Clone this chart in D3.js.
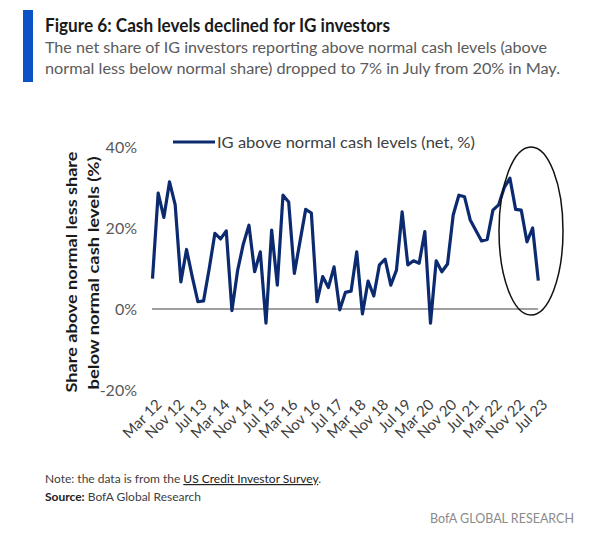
<!DOCTYPE html>
<html>
<head>
<meta charset="utf-8">
<script src="https://cdn.jsdelivr.net/npm/d3@7"></script>
<style>
  html, body { margin: 0; padding: 0; background: #fff; }
  svg { display: block; }
  text { font-family: Lato, "Open Sans", sans-serif; }
</style>
</head>
<body>
<svg id="chart" width="596" height="541"></svg>
<script>
const categories = [
  "Mar 12","May 12","Jul 12","Sep 12","Nov 12",
  "Jan 13","Mar 13","May 13","Jul 13","Sep 13","Nov 13",
  "Jan 14","Mar 14","May 14","Jul 14","Sep 14","Nov 14",
  "Jan 15","Mar 15","May 15","Jul 15","Sep 15","Nov 15",
  "Jan 16","Mar 16","May 16","Jul 16","Sep 16","Nov 16",
  "Jan 17","Mar 17","May 17","Jul 17","Sep 17","Nov 17",
  "Jan 18","Mar 18","May 18","Jul 18","Sep 18","Nov 18",
  "Jan 19","Mar 19","May 19","Jul 19","Sep 19","Nov 19",
  "Jan 20","Mar 20","May 20","Jul 20","Sep 20","Nov 20",
  "Jan 21","Mar 21","May 21","Jul 21","Sep 21","Nov 21",
  "Jan 22","Mar 22","May 22","Jul 22","Sep 22","Nov 22",
  "Jan 23","Mar 23","May 23","Jul 23"
];
const igCash = [
  7.5, 28.6, 22.6, 31.4, 25.7,
  6.7, 14.7, 8, 1.8, 2.0, 10,
  18.7, 17.3, 19.3, -0.4, 9.5, 16,
  20.7, 9.2, 14.1, -3.5, 19.5, 5.9,
  28.1, 26.4, 8.8, 16.7, 24.6, 23.7,
  1.8, 8, 5.3, 10.4, -0.2, 4.1,
  4.4, 14.1, -1.2, 6.9, 3.2, 10.9,
  12.3, 5.9, 9.6, 24, 10.9, 11.9,
  11.3, 19.1, -3.5, 11.9, 9.2, 11.1,
  23.2, 28.1, 27.7, 22, 19.4, 16.8,
  17.2, 24.4, 25.7, 30, 32.3, 24.6,
  24.4, 16.6, 20, 7
];
const xTickLabels = ["Mar 12","Nov 12","Jul 13","Mar 14","Nov 14","Jul 15","Mar 16","Nov 16","Jul 17",
  "Mar 18","Nov 18","Jul 19","Mar 20","Nov 20","Jul 21","Mar 22","Nov 22","Jul 23"];
const yTicks = [-20, 0, 20, 40];
const seriesName = "IG above normal cash levels (net, %)";
const titleText = "Figure 6: Cash levels declined for IG investors";
const subtitleLines = [
  "The net share of IG investors reporting above normal cash levels (above",
  "normal less below normal share) dropped to 7% in July from 20% in May."
];
const yTitleLines = ["Share above normal less share", "below normal cash levels (%)"];

const svg = d3.select("#chart");

// Header
svg.append("rect").attr("x", 23).attr("y", 10).attr("width", 10).attr("height", 72).attr("fill", "#0a52c6");
svg.append("text").attr("x", 45).attr("y", 32).attr("font-size", 18).attr("font-weight", 700)
  .attr("fill", "#1a1a1a").attr("textLength", 345).attr("lengthAdjust", "spacingAndGlyphs").text(titleText);
svg.append("text").attr("x", 45).attr("y", 53).attr("font-size", 15.5).attr("fill", "#5a5a5a")
  .attr("textLength", 502).attr("lengthAdjust", "spacingAndGlyphs").text(subtitleLines[0]);
svg.append("text").attr("x", 45).attr("y", 74).attr("font-size", 15.5).attr("fill", "#5a5a5a")
  .attr("textLength", 515).attr("lengthAdjust", "spacingAndGlyphs").text(subtitleLines[1]);

// Scales
const x = d3.scalePoint().domain(categories).range([152.5, 538.3]);
const y = d3.scaleLinear().domain([-20, 40]).range([390, 147]);

// Y axis (labels only)
const yAxis = d3.axisLeft(y).tickValues(yTicks).tickSize(0).tickPadding(0).tickFormat(d => d + "%");
const gy = svg.append("g").attr("transform", "translate(137,0)").call(yAxis);
gy.select(".domain").remove();
gy.selectAll("text").attr("font-size", 16).attr("fill", "#595959")
  .style("font-family", "Lato, 'Open Sans', sans-serif");

// Zero line
svg.append("line").attr("x1", 152).attr("x2", 538).attr("y1", y(0)).attr("y2", y(0))
  .attr("stroke", "#7f7f7f").attr("stroke-width", 1.6);

// X axis (rotated labels only)
const xAxis = d3.axisBottom(x).tickValues(xTickLabels).tickSize(0).tickPadding(0);
const gx = svg.append("g").attr("transform", "translate(0,396)").call(xAxis);
gx.select(".domain").remove();
gx.selectAll("text")
  .attr("font-size", 15).attr("fill", "#404040")
  .style("font-family", "Lato, 'Open Sans', sans-serif")
  .attr("text-anchor", "end")
  .attr("dy", "0.9em")
  .attr("transform", "rotate(-45)");

// Line
const line = d3.line().x((d, i) => x(categories[i])).y(d => y(d)).curve(d3.curveLinear);
svg.append("path").datum(igCash).attr("d", line).attr("fill", "none")
  .attr("stroke", "#0b2a6f").attr("stroke-width", 3.2).attr("stroke-linejoin", "round");

// Legend
svg.append("line").attr("x1", 173).attr("x2", 215).attr("y1", 142).attr("y2", 142)
  .attr("stroke", "#0b2a6f").attr("stroke-width", 3.2);
svg.append("text").attr("x", 217).attr("y", 148).attr("font-size", 16).attr("fill", "#404040")
  .attr("textLength", 258).attr("lengthAdjust", "spacingAndGlyphs").text(seriesName);

// Y title
const yt = svg.append("g");
yt.append("text").attr("transform", "translate(77,272) rotate(-90)").attr("text-anchor", "middle")
  .attr("font-size", 16).attr("font-weight", 700).attr("fill", "#1a1a1a")
  .attr("textLength", 241).attr("lengthAdjust", "spacingAndGlyphs").text(yTitleLines[0]);
yt.append("text").attr("transform", "translate(99,273) rotate(-90)").attr("text-anchor", "middle")
  .attr("font-size", 16).attr("font-weight", 700).attr("fill", "#1a1a1a")
  .attr("textLength", 233).attr("lengthAdjust", "spacingAndGlyphs").text(yTitleLines[1]);

// Ellipse highlight
svg.append("ellipse").attr("cx", 531).attr("cy", 231).attr("rx", 32).attr("ry", 84)
  .attr("fill", "none").attr("stroke", "#111").attr("stroke-width", 1.5);

// Footnotes
const note = svg.append("text").attr("x", 45).attr("y", 483).attr("font-size", 12).attr("fill", "#404040");
note.append("tspan").text("Note: the data is from the ");
note.append("tspan").attr("text-decoration", "underline").attr("fill", "#222").text("US Credit Investor Survey");
note.append("tspan").text(".");
const src = svg.append("text").attr("x", 45).attr("y", 501).attr("font-size", 12).attr("fill", "#404040");
src.append("tspan").attr("font-weight", 700).attr("fill", "#222").text("Source:");
src.append("tspan").text("  BofA Global Research");
svg.append("text").attr("x", 574).attr("y", 523).attr("text-anchor", "end").attr("font-size", 12.5)
  .attr("fill", "#8a8a8a").text("BofA GLOBAL RESEARCH");
</script>
</body>
</html>
